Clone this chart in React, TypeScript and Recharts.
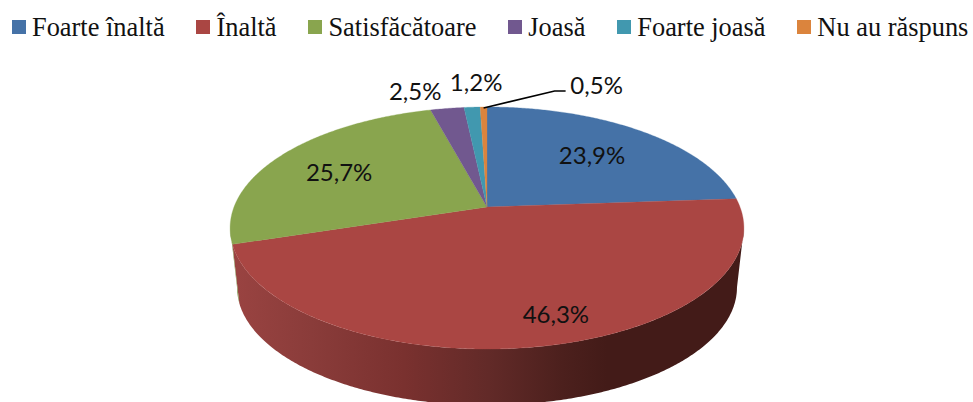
import React from "react";
import { PieChart, Pie, Cell, Legend } from "recharts";

const categories = ["Foarte înaltă", "Înaltă", "Satisfăcătoare", "Joasă", "Foarte joasă", "Nu au răspuns"];
const shares = [23.9, 46.3, 25.7, 2.5, 1.2, 0.5];
const colors = ["#4572A7", "#AA4643", "#89A54E", "#71588F", "#4198AF", "#DB843D"];
const data = categories.map((name, i) => ({ name, value: shares[i] }));

// Perspective of the tilted disc
const K = -0.1736;
const SQUASH = 0.464;
const BOTTOM_SCALE = 0.973;
const DEPTH = 60;
const WALL_FROM = 100;
const WALL_TO = 260;

// radial position of each label plus a nudge, [fraction of radius, dx, dy]
const labelPlacement: [number, number, number][] = [
  [0.66, 0, 0],
  [0.8, 25, 0],
  [0.66, -9, 0],
  [1, -32, -18],
  [1, 4, -26],
  [1, 113, -22],
];

const project = (cx: number, cy: number, R: number, theta: number, f = 1) => {
  const t = (theta * Math.PI) / 180;
  const u = Math.sin(t) * f;
  const v = -Math.cos(t) * f;
  const d = 1 + K * v;
  return { x: (R * u) / d, y: (R * SQUASH * v) / d };
};

const arcPoints = (cx: number, cy: number, R: number, a: number, b: number, s = 1, dy = 0) => {
  const pts: string[] = [];
  const n = Math.max(2, Math.ceil(Math.abs(b - a) * 2));
  for (let i = 0; i <= n; i++) {
    const p = project(cx, cy, R, a + ((b - a) * i) / n);
    pts.push(`${(cx + p.x * s).toFixed(2)} ${(cy + dy + p.y * s).toFixed(2)}`);
  }
  return pts;
};

const Slice = (props: any) => {
  const { cx, cy, outerRadius, startAngle, endAngle, fill } = props;
  const a = 90 - startAngle;
  const b = 90 - endAngle;
  const top = arcPoints(cx, cy, outerRadius, a, b);
  const wa = Math.max(a, WALL_FROM);
  const wb = Math.min(b, WALL_TO);
  let wall = null;
  if (wb > wa) {
    const upper = arcPoints(cx, cy, outerRadius, wa, wb);
    const lower = arcPoints(cx, cy, outerRadius, wb, wa, BOTTOM_SCALE, DEPTH);
    const wallFill = fill === colors[1] ? "url(#wallRed)" : "#7c9048";
    wall = <path d={`M${upper.join("L")}L${lower.join("L")}Z`} fill={wallFill} stroke="none" />;
  }
  return (
    <g>
      <defs>
        {fill === colors[1] && (
          <linearGradient id="wallRed" gradientUnits="userSpaceOnUse" x1={cx - 250} x2={cx + 120} y1="0" y2="0">
            <stop offset="0" stopColor="#994341" />
            <stop offset="0.2" stopColor="#8a3c3a" />
            <stop offset="0.45" stopColor="#7a312f" />
            <stop offset="0.68" stopColor="#622a28" />
            <stop offset="0.88" stopColor="#4c201d" />
            <stop offset="1" stopColor="#431b18" />
          </linearGradient>
        )}
      </defs>
      {wall}
      <path d={`M${cx} ${cy}L${top.join("L")}Z`} fill={fill} stroke={fill} strokeWidth={0.3} />
    </g>
  );
};

const SliceLabel = (props: any) => {
  const { cx, cy, outerRadius, midAngle, index, value } = props;
  const [f, dx, dy] = labelPlacement[index];
  const p = project(cx, cy, outerRadius, 90 - midAngle, f);
  const x = cx + p.x;
  const y = cy + p.y;
  const text = value.toFixed(1).replace(".", ",") + "%";
  return (
    <g>
      {index === 5 && (
        <polyline
          points={`${x} ${y + 1} ${x + 71} ${y - 16} ${x + 82} ${y - 16}`}
          fill="none"
          stroke="#000"
          strokeWidth={1.6}
        />
      )}
      <text
        x={x + dx}
        y={y + dy}
        textAnchor="middle"
        dominantBaseline="central"
        fontFamily="Lato, 'Open Sans', sans-serif"
        fontSize={24}
        fill="#111"
      >
        {text}
      </text>
    </g>
  );
};

const LegendRow = ({ payload }: any) => (
  <div
    style={{
      display: "flex",
      gap: 31.85,
      paddingLeft: 12,
      fontFamily: "'Liberation Serif', serif",
      fontSize: 26.4,
      lineHeight: "30px",
      color: "#111",
      whiteSpace: "nowrap",
    }}
  >
    {payload.map((e: any) => (
      <div key={e.value} style={{ display: "flex", alignItems: "center", gap: 6 }}>
        <span style={{ display: "inline-block", width: 14, height: 14, background: e.color }} />
        <span>{e.value}</span>
      </div>
    ))}
  </div>
);

export default function App() {
  return (
    <div style={{ position: "absolute", left: 0, top: 0, width: 973, height: 402, overflow: "hidden", background: "#fff" }}>
      <PieChart width={973} height={402} margin={{ top: 0, right: 0, bottom: 0, left: 0 }}>
        <Legend
          verticalAlign="top"
          align="left"
          itemSorter={null}
          content={<LegendRow />}
          wrapperStyle={{ left: 0, top: 12, width: 973 }}
        />
        <Pie
          data={data}
          dataKey="value"
          nameKey="name"
          cx={487}
          cy={177}
          outerRadius={253}
          startAngle={90}
          endAngle={-270}
          stroke="none"
          shape={Slice}
          label={SliceLabel}
          labelLine={false}
          isAnimationActive={false}
        >
          {data.map((d, i) => (
            <Cell key={d.name} fill={colors[i]} />
          ))}
        </Pie>
      </PieChart>
    </div>
  );
}
